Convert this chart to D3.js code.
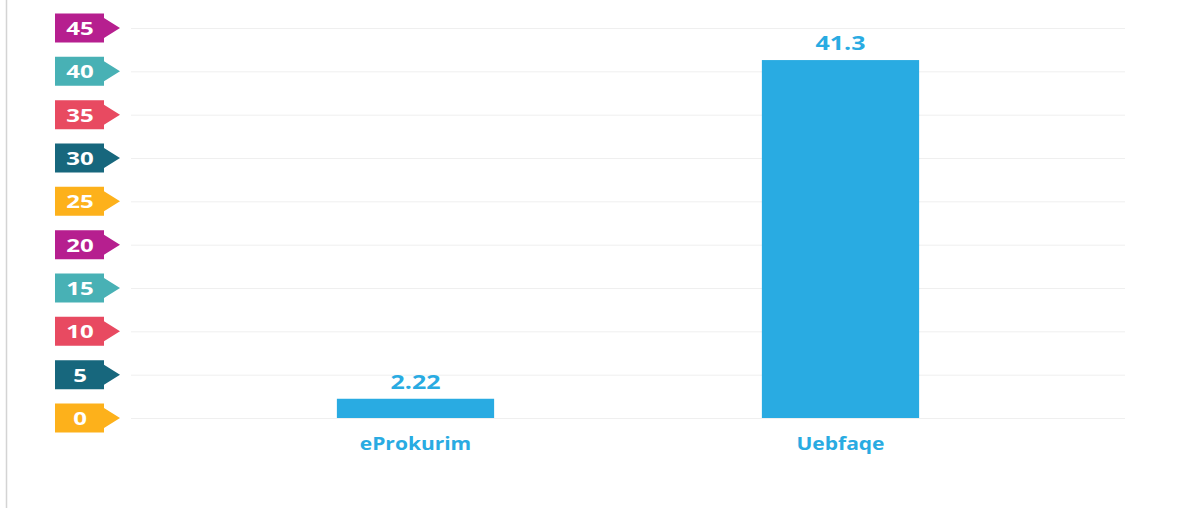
<!DOCTYPE html>
<html>
<head>
<meta charset="utf-8">
<script src="https://cdn.jsdelivr.net/npm/d3@7"></script>
<style>
  body { margin: 0; background: #fff; }
  svg { display: block; font-family: "Open Sans", "DejaVu Sans", sans-serif; }
</style>
</head>
<body>
<svg id="chart" width="1179" height="508"></svg>
<script>
var categories = ["eProkurim", "Uebfaqe"];
var values = [2.22, 41.3];
var tickValues = [0, 5, 10, 15, 20, 25, 30, 35, 40, 45];
var tickColors = ["#fdb11b", "#17677d", "#e84a61", "#48b1b5", "#b61f8f"];

var barColor = "#29abe2";
var svg = d3.select("#chart");

// left border line
svg.append("line")
    .attr("x1", 6.5).attr("x2", 6.5)
    .attr("y1", 0).attr("y2", 508)
    .attr("stroke", "#d4d4d4")
    .attr("stroke-width", 1.5);

var y = d3.scaleLinear().domain([0, 45]).range([418, 28]);
var x = d3.scaleBand()
    .domain(categories)
    .range([203, 1053])
    .paddingInner(0.63)
    .paddingOuter(0.315);

// the reference font is drawn a bit wide, so stretch text horizontally
function wide(sx) {
    return function (sel) {
        sel.attr("transform", function () {
            var t = d3.select(this);
            return "translate(" + t.attr("x") + "," + t.attr("y") + ") scale(" + sx + ",1)";
        }).attr("x", 0).attr("y", 0);
    };
}

// gridlines
svg.append("g").selectAll("line")
    .data(tickValues)
    .join("line")
    .attr("x1", 131).attr("x2", 1125)
    .attr("y1", function (d) { return y(d) + 0.5; })
    .attr("y2", function (d) { return y(d) + 0.5; })
    .attr("stroke", "#efefef")
    .attr("stroke-width", 1);

// tick tags
var tag = svg.append("g").selectAll("g")
    .data(tickValues)
    .join("g")
    .attr("transform", function (d) { return "translate(0," + y(d) + ")"; });

tag.append("path")
    .attr("d", "M55,-14.5 H104 V-10 L120,0 L104,10 V14.5 H55 Z")
    .attr("fill", function (d, i) { return tickColors[i % tickColors.length]; });

tag.append("text")
    .attr("x", 80)
    .attr("y", 0)
    .attr("dy", "0.38em")
    .attr("text-anchor", "middle")
    .attr("fill", "#fff")
    .attr("font-size", 18.5)
    .attr("font-weight", "bold")
    .text(function (d) { return d; })
    .call(wide(1.3));

// bars
svg.append("g").selectAll("rect")
    .data(values)
    .join("rect")
    .attr("x", function (d, i) { return x(categories[i]); })
    .attr("width", x.bandwidth())
    .attr("y", function (d) { return y(d); })
    .attr("height", function (d) { return y(0) - y(d); })
    .attr("fill", barColor);

// value labels
svg.append("g").selectAll("text")
    .data(values)
    .join("text")
    .attr("x", function (d, i) { return x(categories[i]) + x.bandwidth() / 2; })
    .attr("y", function (d) { return y(d) - 10; })
    .attr("text-anchor", "middle")
    .attr("fill", barColor)
    .attr("font-size", 19.5)
    .attr("font-weight", "bold")
    .text(function (d) { return d; })
    .call(wide(1.28));

// category labels
svg.append("g").selectAll("text")
    .data(categories)
    .join("text")
    .attr("x", function (d) { return x(d) + x.bandwidth() / 2; })
    .attr("y", 449.5)
    .attr("text-anchor", "middle")
    .attr("fill", barColor)
    .attr("font-size", 17.5)
    .attr("font-weight", "bold")
    .text(function (d) { return d; })
    .call(wide(1.2));
</script>
</body>
</html>
